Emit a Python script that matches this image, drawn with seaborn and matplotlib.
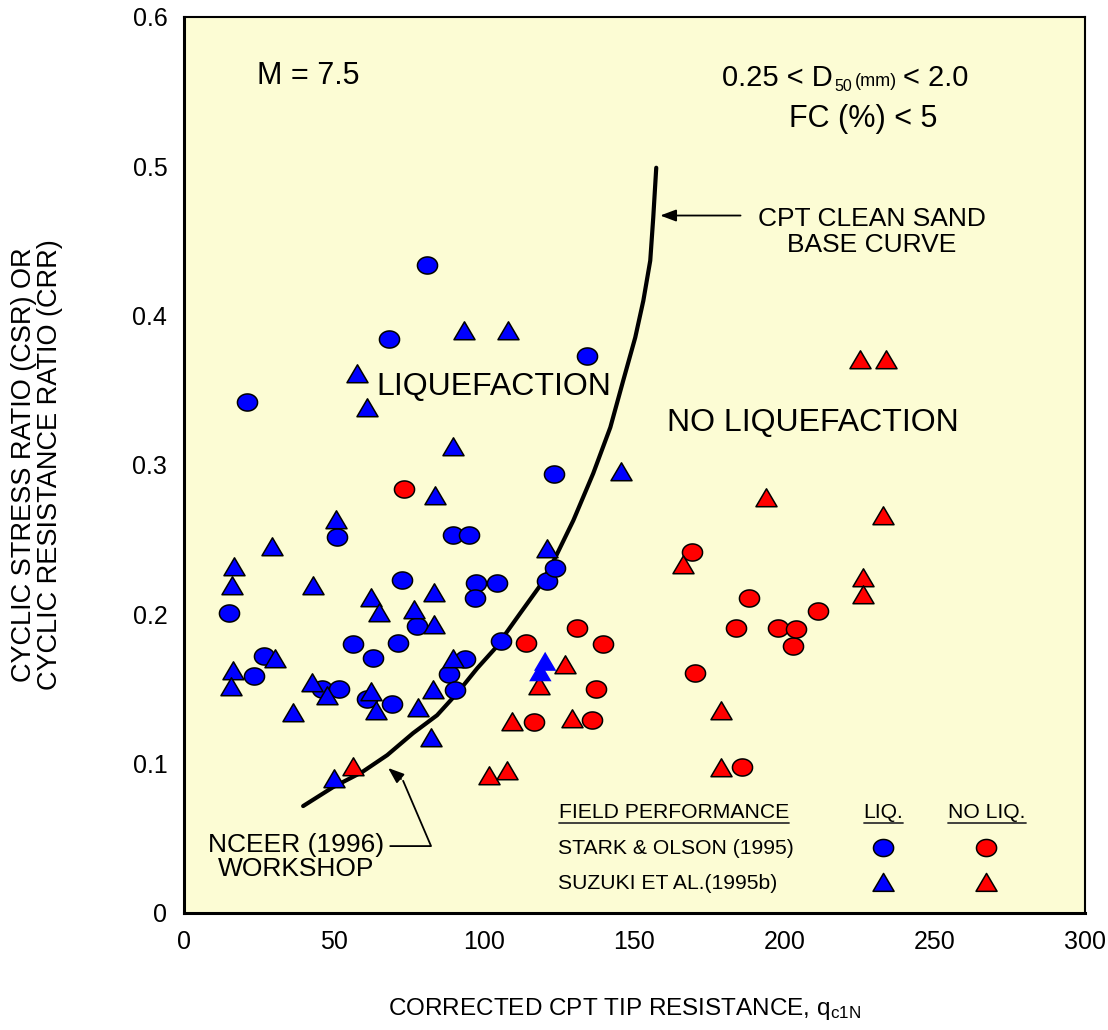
import numpy as np
import pandas as pd
import matplotlib
matplotlib.use("Agg")
import matplotlib.pyplot as plt
from matplotlib.path import Path
from matplotlib.lines import Line2D
import seaborn as sns

# ---------------- data ----------------
blue_circ_x = [81, 68.3, 21, 134.3, 123.3, 51, 89.7, 95, 72.7, 97.3, 97, 104.3, 121, 123.7,
               77.7, 15, 56.3, 63, 71.3, 26.7, 23.3, 46, 51.7, 61, 69.3, 93.7, 88.3, 90.3, 105.7]
blue_circ_y = [0.434, 0.384, 0.342, 0.373, 0.294, 0.252, 0.253, 0.253, 0.223, 0.221, 0.211, 0.221, 0.222, 0.231,
               0.192, 0.201, 0.180, 0.171, 0.181, 0.172, 0.159, 0.150, 0.150, 0.143, 0.140, 0.170, 0.160, 0.149, 0.182]

blue_tri_x = [57.7, 61, 93.3, 108, 89.7, 83.7, 50.7, 29.3, 16.7, 16, 43, 83.3, 62.3, 65, 76.7, 83.3,
              30.3, 16.3, 15.7, 42.7, 47.7, 62.3, 64, 36.3, 78, 83, 89.7, 82.3, 50, 145.7, 121]
blue_tri_y = [0.361, 0.338, 0.390, 0.390, 0.312, 0.279, 0.263, 0.245, 0.232, 0.219, 0.219, 0.214, 0.211, 0.201, 0.203, 0.193,
              0.170, 0.162, 0.151, 0.154, 0.145, 0.148, 0.135, 0.134, 0.137, 0.149, 0.170, 0.117, 0.090, 0.295, 0.244]
blue_tri_noedge_x = [120.3, 118.7]
blue_tri_noedge_y = [0.168, 0.161]

red_circ_x = [73.3, 114, 116.7, 131, 136, 137.3, 139.7, 169.3, 170.3, 183.7, 186, 188.3, 198, 202.7, 203.7, 211.3]
red_circ_y = [0.284, 0.181, 0.128, 0.191, 0.129, 0.150, 0.180, 0.242, 0.161, 0.191, 0.098, 0.211, 0.191, 0.179, 0.190, 0.202]

red_tri_x = [56.3, 101.7, 107.7, 109.3, 118.3, 127, 129.3, 166.3, 178.7, 179, 194, 225, 233.7, 226, 226, 232.7]
red_tri_y = [0.098, 0.092, 0.095, 0.128, 0.152, 0.166, 0.130, 0.233, 0.135, 0.097, 0.278, 0.370, 0.370, 0.224, 0.213, 0.266]

curve_x = [39.7, 49.7, 59.3, 67.7, 76.3, 84.3, 91.0, 97.7, 103.7, 112.0, 118.7, 123.7, 129.7,
           136.3, 142.0, 146.3, 150.3, 153.0, 155.3, 156.3, 157.3]
curve_y = [0.0716, 0.0843, 0.0943, 0.1057, 0.1204, 0.1324, 0.1472, 0.1639, 0.1773, 0.2007, 0.2194, 0.2381, 0.2629,
           0.2943, 0.3251, 0.3565, 0.3853, 0.4100, 0.4368, 0.4656, 0.4990]

x_ticks = [0, 50, 100, 150, 200, 250, 300]
y_ticks = [0, 0.1, 0.2, 0.3, 0.4, 0.5, 0.6]
y_tick_labels = ["0", "0.1", "0.2", "0.3", "0.4", "0.5", "0.6"]

# ---------------- style ----------------
sns.set_theme(style="white")
plt.rcParams['font.family'] = ['Liberation Sans', 'DejaVu Sans']
plt.rcParams['mathtext.fontset'] = 'custom'
plt.rcParams['mathtext.rm'] = 'Liberation Sans'
plt.rcParams['mathtext.it'] = 'Liberation Sans'
plt.rcParams['text.color'] = 'black'
plt.rcParams['axes.labelcolor'] = 'black'

BG = "#FCFCD4"
BLUE = "#0000FF"
RED = "#FF0000"

th = np.linspace(0, 2 * np.pi, 60)
ellipse = Path(np.column_stack([np.cos(th), 0.85 * np.sin(th)]), closed=False)
tri = Path([(-1.0, -0.78), (1.0, -0.78), (0.0, 0.92), (-1.0, -0.78)], closed=True)

fig = plt.figure(figsize=(11.08, 10.30), dpi=100)
ax = fig.add_axes([0.166, 0.1136, 0.813, 0.870])
ax.set_facecolor(BG)

df = pd.concat([
    pd.DataFrame({"q": blue_circ_x, "csr": blue_circ_y, "grp": "bc"}),
    pd.DataFrame({"q": red_circ_x, "csr": red_circ_y, "grp": "rc"}),
    pd.DataFrame({"q": blue_tri_x, "csr": blue_tri_y, "grp": "bt"}),
    pd.DataFrame({"q": red_tri_x, "csr": red_tri_y, "grp": "rt"}),
], ignore_index=True)

# curve
sns.lineplot(x=curve_x, y=curve_y, sort=False, color="black", linewidth=3.0, ax=ax, zorder=2)

sns.scatterplot(data=df[df.grp == "bc"], x="q", y="csr", marker=ellipse, s=210, color=BLUE,
                edgecolor="black", linewidth=1.1, ax=ax, zorder=3, legend=False)
sns.scatterplot(data=df[df.grp == "rc"], x="q", y="csr", marker=ellipse, s=210, color=RED,
                edgecolor="black", linewidth=1.1, ax=ax, zorder=3, legend=False)
sns.scatterplot(data=df[df.grp == "bt"], x="q", y="csr", marker=tri, s=230, color=BLUE,
                edgecolor="black", linewidth=1.1, ax=ax, zorder=4, legend=False)
sns.scatterplot(data=df[df.grp == "rt"], x="q", y="csr", marker=tri, s=230, color=RED,
                edgecolor="black", linewidth=1.1, ax=ax, zorder=4, legend=False)
sns.scatterplot(x=blue_tri_noedge_x, y=blue_tri_noedge_y, marker=tri, s=260, color=BLUE,
                edgecolor="none", linewidth=0, ax=ax, zorder=4, legend=False)

# legend markers
sns.scatterplot(x=[233, 267.3], y=[0.0435, 0.0435], marker=ellipse, s=210, hue=["a", "b"],
                palette=[BLUE, RED], edgecolor="black", linewidth=1.1, ax=ax, zorder=4, legend=False)
sns.scatterplot(x=[233, 267.3], y=[0.020, 0.020], marker=tri, s=230, hue=["a", "b"],
                palette=[BLUE, RED], edgecolor="black", linewidth=1.1, ax=ax, zorder=4, legend=False)

# axes
ax.set_xlim(0, 300)
ax.set_ylim(0, 0.6)
ax.set_xticks(x_ticks)
ax.set_yticks(y_ticks)
ax.set_yticklabels(y_tick_labels)
ax.tick_params(axis="both", direction="in", length=13, width=1.2, color="#666666",
               labelsize=18, labelcolor="black")
ax.tick_params(axis="x", pad=12)
ax.tick_params(axis="y", pad=12)
for sp in ax.spines.values():
    sp.set_visible(True)
    sp.set_color("black")
    sp.set_linewidth(1.5)
ax.spines["left"].set_linewidth(2.2)
ax.spines["bottom"].set_linewidth(2.2)

ax.set_xlabel(r"CORRECTED CPT TIP RESISTANCE, q$_{\mathrm{c1N}}$", fontsize=17.5)
ax.xaxis.set_label_coords(0.489, -0.093)
ax.set_ylabel("CYCLIC STRESS RATIO (CSR) OR\nCYCLIC RESISTANCE RATIO (CRR)", fontsize=19.5,
              linespacing=1.0)
ax.yaxis.set_label_coords(-0.134, 0.5)

# annotations
ax.text(24.3, 0.5605, "M = 7.5", fontsize=22, ha="left", va="center")
d_main = ax.text(179.3, 0.5535, "0.25 < D", fontsize=21, ha="left", va="baseline")
ax.text(226.3, 0.5318, "FC (%) < 5", fontsize=22, ha="center", va="center")
ax.text(103.3, 0.352, "LIQUEFACTION", fontsize=23, ha="center", va="center")
ax.text(209.3, 0.328, "NO LIQUEFACTION", fontsize=23, ha="center", va="center")
ax.text(229.0, 0.456, "CPT CLEAN SAND\nBASE CURVE", fontsize=19, ha="center", va="center",
        linespacing=1.1)
ax.annotate("", xy=(157.7, 0.467), xytext=(186.3, 0.467),
            arrowprops=dict(arrowstyle="-|>,head_length=0.8,head_width=0.3", color="black", lw=1.3))
ax.text(37.3, 0.0375, "NCEER (1996)\nWORKSHOP", fontsize=19, ha="center", va="center",
        linespacing=1.05)
ax.plot([68.7, 82.3, 73.0], [0.0448, 0.0448, 0.0885], color="black", lw=1.3)
ax.annotate("", xy=(67.3, 0.0983), xytext=(73.0, 0.0885),
            arrowprops=dict(arrowstyle="-|>,head_length=0.8,head_width=0.3", color="black", lw=1.3))

t1 = ax.text(124.8, 0.0676, "FIELD PERFORMANCE", fontsize=15.2, ha="left", va="center")
t2 = ax.text(233, 0.0676, "LIQ.", fontsize=15.2, ha="center", va="center")
t3 = ax.text(267.5, 0.0676, "NO LIQ.", fontsize=15.2, ha="center", va="center")
ax.text(124.7, 0.0435, "STARK & OLSON (1995)", fontsize=15.2, ha="left", va="center")
ax.text(124.7, 0.020, "SUZUKI ET AL.(1995b)", fontsize=15.2, ha="left", va="center")

fig.canvas.draw()
r = fig.canvas.get_renderer()
inv = ax.transData.inverted()
for t in (t1, t2, t3):
    bb = t.get_window_extent(renderer=r)
    (x0, y0) = inv.transform((bb.x0, bb.y0 - 1))
    (x1, _) = inv.transform((bb.x1, bb.y0 - 1))
    ax.add_line(Line2D([x0, x1], [y0, y0], color="#333333", lw=1.3))

# chained pieces of the D50 line: subscript "50", small "(mm)", then "< 2.0"
def chain(prev, txt, size, dy_px=0.0, gap_px=0.0):
    fig.canvas.draw()
    b = prev.get_window_extent(renderer=r)
    xd, yd = inv.transform((b.x1 + gap_px, 0))
    _, y_base = inv.transform((0, ax.transData.transform((0, 0.5535))[1] + dy_px))
    return ax.text(xd, y_base, txt, fontsize=size, ha="left", va="baseline")

p1 = chain(d_main, "50", 11.5, dy_px=-5, gap_px=1)
p2 = chain(p1, "(mm)", 13, gap_px=3)
chain(p2, "< 2.0", 21, gap_px=6)

fig.savefig("out.png", dpi=100, facecolor="white")
